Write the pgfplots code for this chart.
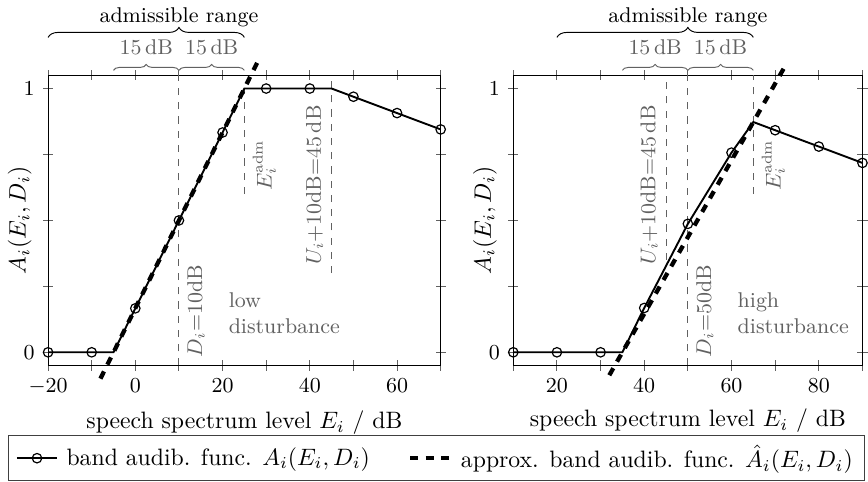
\documentclass[border=0pt]{standalone}
\usepackage{pgfplots}
\pgfplotsset{compat=1.18}
\usetikzlibrary{decorations.pathreplacing}
\definecolor{annot}{gray}{0.38}

\tikzset{
  datline/.style={black, thick},
  datmarks/.style={mark=o, mark size=2pt, mark options={black, line width=0.5pt}},
  approx/.style={black, line width=1.8pt, dash pattern=on 3.4pt off 3.2pt},
  vline/.style={annot, thin, dashed},
  vlab/.style={annot, font=\small, rotate=90},
  smallbrace/.style={annot, thin, decorate, decoration={brace, amplitude=2.5pt}},
  bigbrace/.style={black, thin, decorate, decoration={brace, amplitude=4.2pt, aspect=0.6667}},
}

\begin{document}
\begin{tikzpicture}
\pgfplotsset{
  every axis/.append style={
    scale only axis, height=122.3pt, clip=false,
    ymin=-0.05, ymax=1.05,
    ytick={0,1}, minor ytick={0.25,0.5,0.75},
    tick align=center,
    minor tick length=0.15cm,
    tick style={annot, thin},
    tick label style={font=\small},
    xlabel={speech spectrum level $E_i$ / dB},
    ylabel={$A_i(E_i, D_i)$},
    ylabel style={at={([xshift=-3.4pt]axis description cs:0,0.5)}, anchor=south},
  },
}

% ---------------- left axis: low disturbance ----------------
\begin{axis}[
  name=left, at={(0,0)}, width=165.5pt,
  xmin=-20, xmax=70,
  xtick={-20,0,20,40,60}, minor xtick={-10,10,30,50,70},
  legend columns=2,
  legend style={at={(0,0)}, anchor=north west, xshift=-16.8pt, yshift=-29.4pt,
    draw=black!75, font=\normalsize,
    /tikz/every even column/.append style={column sep=14pt},
    /tikz/every odd column/.append style={column sep=1.5pt}},
]
\addlegendimage{black, thick, mark=o, mark size=2pt, mark options={solid, line width=0.5pt}}
\addlegendentry{band audib. func. $A_i(E_i,D_i)$}
\addlegendimage{approx}
\addlegendentry{approx. band audib. func. $\hat{A}_i(E_i,D_i)$}

\addplot[vline, forget plot] coordinates {(10,-0.05) (10,1.05)};
\addplot[vline, forget plot] coordinates {(25,0.6) (25,1)};
\addplot[vline, forget plot] coordinates {(45,0.3) (45,1.05)};

\addplot[datline, no marks, forget plot] coordinates {(-20,0) (-5,0) (25,1) (45,1) (70,0.845)};
\addplot[datmarks, only marks, forget plot] coordinates {
  (-20,0) (-10,0) (0,0.1667) (10,0.5) (20,0.8333) (30,1) (40,1) (50,0.969) (60,0.907) (70,0.845)};
\addplot[approx, no marks, forget plot] coordinates {(-8,-0.1) (28,1.1)};

\node[vlab, anchor=north west] at (axis cs:10,-0.05) {$D_i$=10dB};
\node[vlab, anchor=north west] at (axis cs:25,0.58) {$E_i^{\mathrm{adm}}$};
\node[vlab, anchor=south west] at (axis cs:45,0.30) {$U_i$+10dB=45\,dB};
\node[annot, anchor=west, align=left, font=\small] at (axis cs:19.5,0.148) {low\\disturbance};

\draw[smallbrace] ([yshift=2.1pt]axis cs:-5,1.05) -- ([yshift=2.1pt]axis cs:10,1.05)
  node[midway, above=2.9pt, font=\small] {15\,dB};
\draw[smallbrace] ([yshift=2.1pt]axis cs:10,1.05) -- ([yshift=2.1pt]axis cs:25,1.05)
  node[midway, above=2.9pt, font=\small] {15\,dB};
\draw[bigbrace] ([yshift=16pt]axis cs:-20,1.05) -- ([yshift=16pt]axis cs:25,1.05)
  node[pos=0.6667, above=0.8pt, font=\small, black] {admissible range};
\end{axis}

% ---------------- right axis: high disturbance ----------------
\begin{axis}[
  name=right, at={(196.1pt,0)}, width=147.2pt,
  xmin=10, xmax=90,
  xtick={20,40,60,80}, minor xtick={10,30,50,70,90},
]
\addplot[vline, forget plot] coordinates {(45,0.35) (45,1.05)};
\addplot[vline, forget plot] coordinates {(50,-0.05) (50,1.05)};
\addplot[vline, forget plot] coordinates {(65,0.6) (65,1.05)};

\addplot[datline, no marks, forget plot] coordinates {(10,0) (35,0) (40,0.168) (50,0.487) (60,0.757) (65,0.873) (90,0.718)};
\addplot[datmarks, only marks, forget plot] coordinates {
  (10,0) (20,0) (30,0) (40,0.168) (50,0.487) (60,0.757) (70,0.842) (80,0.780) (90,0.718)};
\addplot[approx, no marks, forget plot] coordinates {(32,-0.087) (72,1.077)};

\node[vlab, anchor=south west] at (axis cs:45,0.30) {$U_i$+10dB=45\,dB};
\node[vlab, anchor=north west] at (axis cs:50,-0.05) {$D_i$=50dB};
\node[vlab, anchor=north west] at (axis cs:65,0.58) {$E_i^{\mathrm{adm}}$};
\node[annot, anchor=west, align=left, font=\small] at (axis cs:59.5,0.148) {high\\disturbance};

\draw[smallbrace] ([yshift=2.1pt]axis cs:35,1.05) -- ([yshift=2.1pt]axis cs:50,1.05)
  node[midway, above=2.9pt, font=\small] {15\,dB};
\draw[smallbrace] ([yshift=2.1pt]axis cs:50,1.05) -- ([yshift=2.1pt]axis cs:65,1.05)
  node[midway, above=2.9pt, font=\small] {15\,dB};
\draw[bigbrace] ([yshift=16pt]axis cs:20,1.05) -- ([yshift=16pt]axis cs:65,1.05)
  node[pos=0.6667, above=0.8pt, font=\small, black] {admissible range};
\end{axis}
\end{tikzpicture}
\end{document}
